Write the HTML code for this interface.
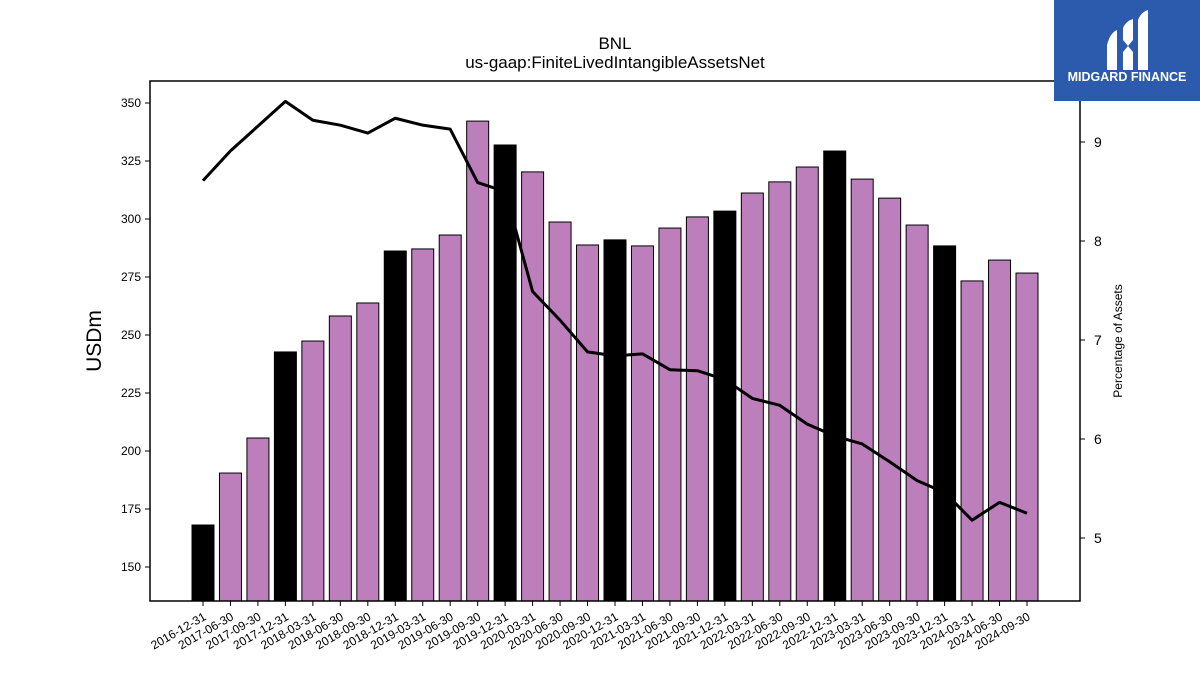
<!DOCTYPE html>
<html><head><meta charset="utf-8"><style>
body{margin:0;background:#fff;}
svg{display:block;font-family:"Liberation Sans","DejaVu Sans",sans-serif;}
</style></head><body>
<svg id="chart" width="1200" height="675" viewBox="0 0 1200 675">
<text x="615" y="49" text-anchor="middle" font-size="17">BNL</text>
<text x="615" y="68" text-anchor="middle" font-size="17">us-gaap:FiniteLivedIntangibleAssetsNet</text>
<g id="bars"></g>
<g id="line"></g>
<g id="axes"></g>
<rect x="150" y="81" width="930" height="520" fill="none" stroke="#000" stroke-width="1.5"/>
<text transform="translate(101,341) rotate(-90)" text-anchor="middle" font-size="21">USDm</text>
<text transform="translate(1122,341) rotate(-90)" text-anchor="middle" font-size="12">Percentage of Assets</text>
<g>
<rect x="1054" y="0" width="146" height="101" fill="#2c5aad"/>
<path d="M1107 45 Q1110 33 1117 30 L1117 70 L1107 70 Z" fill="#fff"/>
<path d="M1123 28 Q1126 21 1133 19 L1133 40 L1128 46 L1123 40 Z" fill="#fff"/>
<path d="M1123 52 L1128 46 L1133 52 L1133 70 L1123 70 Z" fill="#fff"/>
<path d="M1138 20 Q1141 12 1148 10 L1148 70 L1138 70 Z" fill="#fff"/>
<text x="1127" y="81" text-anchor="middle" font-size="12.5" font-weight="bold" fill="#fff">MIDGARD FINANCE</text>
</g>
</svg>
<script>
const categories=["2016-12-31","2017-06-30","2017-09-30","2017-12-31","2018-03-31","2018-06-30","2018-09-30","2018-12-31","2019-03-31","2019-06-30","2019-09-30","2019-12-31","2020-03-31","2020-06-30","2020-09-30","2020-12-31","2021-03-31","2021-06-30","2021-09-30","2021-12-31","2022-03-31","2022-06-30","2022-09-30","2022-12-31","2023-03-31","2023-06-30","2023-09-30","2023-12-31","2024-03-31","2024-06-30","2024-09-30"];
const usdValues=[168.1,190.5,205.6,242.7,247.4,258.2,263.8,286.2,287.1,293.1,342.2,331.9,320.3,298.7,288.8,291.0,288.4,296.1,300.9,303.4,311.2,316.0,322.4,329.3,317.2,309.0,297.4,288.4,273.3,282.3,276.7];
const pctValues=[8.61,8.91,9.16,9.41,9.22,9.17,9.09,9.24,9.17,9.13,8.59,8.50,7.49,7.20,6.88,6.84,6.86,6.70,6.69,6.60,6.41,6.34,6.15,6.03,5.95,5.77,5.58,5.46,5.18,5.36,5.25];
const leftTicks=[150,175,200,225,250,275,300,325,350];
const rightTicks=[5,6,7,8,9];
const NS="http://www.w3.org/2000/svg";
const L=150,R=1080,T=81,B=601;
const yL=v=>567-(v-150)*58/25;
const yR=v=>538-(v-5)*99;
const xC=i=>203+i*(1027-203)/(categories.length-1);
const bw=22;
function mk(tag,attrs,parent){const e=document.createElementNS(NS,tag);for(const k in attrs)e.setAttribute(k,attrs[k]);parent.appendChild(e);return e;}
const gb=document.getElementById('bars'),gl=document.getElementById('line'),ga=document.getElementById('axes');
categories.forEach((c,i)=>{
  const y=yL(usdValues[i]);
  const r=mk('rect',{x:xC(i)-bw/2,y:y,width:bw,height:B-y,fill:(c.endsWith('12-31')?'#000':'#bc7fbc'),stroke:'#000','stroke-width':1},gb);
  
  
  const t=mk('line',{x1:xC(i),x2:xC(i),y1:B,y2:B+5,stroke:'#000'},ga);
  
  
  const lx=xC(i)+4,ly=B+18;
  const tx=mk('text',{x:lx,y:ly,'text-anchor':'end','font-size':12,transform:`rotate(-30 ${lx} ${ly})`},ga);
  tx.textContent=c;
  
  
});
const p=mk('polyline',{points:pctValues.map((v,i)=>xC(i)+','+yR(v)).join(' '),fill:'none',stroke:'#000','stroke-width':3,'stroke-linejoin':'round'},gl);


leftTicks.forEach(v=>{
  const y=yL(v);
  const t=mk('line',{x1:L-5,x2:L,y1:y,y2:y,stroke:'#000'},ga);
  
  
  const tx=mk('text',{x:L-9,y:y+4,'text-anchor':'end','font-size':12},ga);
  tx.textContent=v;
  
  
});
rightTicks.forEach(v=>{
  const y=yR(v);
  const t=mk('line',{x1:R,x2:R+5,y1:y,y2:y,stroke:'#000'},ga);
  
  
  const tx=mk('text',{x:R+14,y:y+5,'font-size':14},ga);
  tx.textContent=v;
  
  
});
</script>
</body></html>
